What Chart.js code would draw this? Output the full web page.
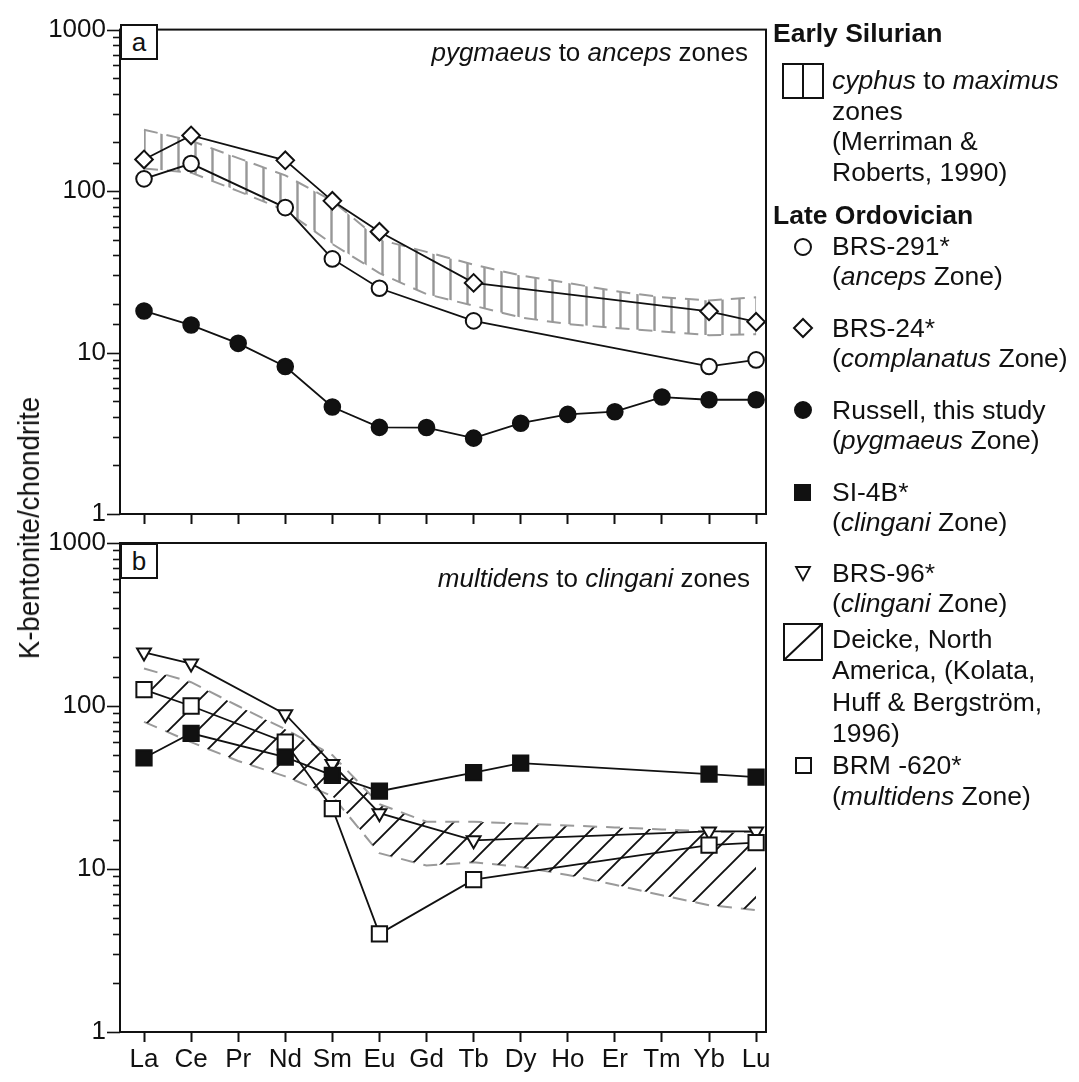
<!DOCTYPE html>
<html><head><meta charset="utf-8">
<script src="https://cdn.jsdelivr.net/npm/chart.js@4/dist/chart.umd.min.js"></script>
<style>
html,body{margin:0;padding:0;background:#fff;}
#wrap{position:relative;width:1079px;height:1082px;overflow:hidden;font-family:'Liberation Sans',Arial,Helvetica,sans-serif;color:#111;}
canvas{position:absolute;left:0;top:0;}
.t{position:absolute;white-space:nowrap;font-size:26.5px;line-height:30px;}
.b{font-weight:bold;}
.box{position:absolute;border:2px solid #111;box-sizing:border-box;width:38px;height:36px;font-size:26px;line-height:32px;text-align:center;background:#fff;}
#ytitle{position:absolute;left:29px;top:528px;transform:translate(-50%,-50%) rotate(-90deg) scaleX(0.92);white-space:nowrap;font-size:30px;}
</style></head><body>
<div id="wrap">
<canvas id="ca" width="780" height="1082" style="width:780px;height:1082px"></canvas>
<canvas id="cb" width="780" height="1082" style="width:780px;height:1082px"></canvas>

<div class="box" style="left:120px;top:24px;">a</div>
<div class="box" style="left:120px;top:543px;">b</div>
<div class="t" style="right:331px;top:37px;font-size:26px;"><i>pygmaeus</i> to <i>anceps</i> zones</div>
<div class="t" style="right:329px;top:563px;font-size:26px;"><i>multidens</i> to <i>clingani</i> zones</div>
<div id="ytitle">K-bentonite/chondrite</div>

<svg style="position:absolute;left:770px;top:0;" width="309" height="1082">
  <g stroke="#111" stroke-width="2" fill="none">
    <rect x="13" y="64" width="40" height="34"/>
    <line x1="33" y1="64" x2="33" y2="98"/>
    <circle cx="33" cy="247" r="8" fill="#fff"/>
    <polygon points="33,319 42,328 33,337 24,328" fill="#fff"/>
    <circle cx="33" cy="410" r="8" fill="#111"/>
    <rect x="25" y="485" width="15" height="15" fill="#111"/>
    <polygon points="26,567 40,567 33,580" fill="#fff" stroke-width="1.8"/>
    <rect x="14" y="624" width="38" height="36"/>
    <line x1="14" y1="660" x2="52" y2="624"/>
    <rect x="26" y="758" width="15" height="15" fill="#fff"/>
  </g>
</svg>
<div class="t b" style="left:773px;top:18px;">Early Silurian</div>
<div class="t" style="left:832px;top:65px;"><i>cyphus</i> to <i>maximus</i></div>
<div class="t" style="left:832px;top:96px;">zones</div>
<div class="t" style="left:832px;top:126px;">(Merriman &amp;</div>
<div class="t" style="left:832px;top:157px;">Roberts, 1990)</div>
<div class="t b" style="left:773px;top:200px;">Late Ordovician</div>
<div class="t" style="left:832px;top:231px;">BRS-291*</div>
<div class="t" style="left:832px;top:261px;">(<i>anceps</i> Zone)</div>
<div class="t" style="left:832px;top:313px;">BRS-24*</div>
<div class="t" style="left:832px;top:343px;">(<i>complanatus</i> Zone)</div>
<div class="t" style="left:832px;top:395px;">Russell, this study</div>
<div class="t" style="left:832px;top:425px;">(<i>pygmaeus</i> Zone)</div>
<div class="t" style="left:832px;top:477px;">SI-4B*</div>
<div class="t" style="left:832px;top:507px;">(<i>clingani</i> Zone)</div>
<div class="t" style="left:832px;top:558px;">BRS-96*</div>
<div class="t" style="left:832px;top:588px;">(<i>clingani</i> Zone)</div>
<div class="t" style="left:832px;top:624px;">Deicke, North</div>
<div class="t" style="left:832px;top:655px;">America, (Kolata,</div>
<div class="t" style="left:832px;top:687px;">Huff &amp; Bergström,</div>
<div class="t" style="left:832px;top:718px;">1996)</div>
<div class="t" style="left:832px;top:750px;">BRM -620*</div>
<div class="t" style="left:832px;top:781px;">(<i>multidens</i> Zone)</div>
</div>

<script>
// ---------------- DATA ----------------
const categories = ['La','Ce','Pr','Nd','Sm','Eu','Gd','Tb','Dy','Ho','Er','Tm','Yb','Lu'];
const yTickValues = [1, 10, 100, 1000];
const yTickLabels = ['1', '10', '100', '1000'];

// Panel a
const brs291  = [119, 148, null, 79, 38, 25, null, 15.7, null, null, null, null, 8.2, 9.0];
const brs24   = [157, 221, null, 155, 87, 56, null, 27, null, null, null, null, 18, 15.5];
const russell = [18.1, 14.8, 11.4, 8.2, 4.6, 3.44, 3.43, 2.95, 3.65, 4.14, 4.3, 5.3, 5.1, 5.1];
const silurianUpper = [240, 205, 160, 125, 87, 50, 42, 35, 30, 27, 24, 22, 21, 22];
const silurianLower = [138, 130, 100, 76, 47, 31, 23, 19.5, 16.5, 15, 14.2, 13.5, 12.8, 13];

// Panel b
const brs96  = [213, 182, null, 89, 44, 22, null, 15, null, null, null, null, 17, 17];
const brm620 = [126, 100, null, 60, 23.5, 4.0, null, 8.6, null, null, null, null, 14, 14.5];
const si4b   = [48, 68, null, 48.5, 37.5, 30, null, 39, 44.6, null, null, null, 38.2, 36.6];
const deickeUpper = [170, 140, 100, 72, 50, 25, 19.5, 19.5, 19, 18.5, 18, 17.5, 17, 16.8];
const deickeLower = [80, 60, 46, 37, 28, 12.5, 10.5, 11, 10.3, 9.2, 8, 6.9, 6, 5.6];

// ---------------- HELPERS ----------------
const FONT = "'Liberation Sans', Arial, Helvetica, sans-serif";
const INK = '#111';
const pts = arr => arr.map((v, i) => ({x: i, y: v})).filter(p => p.y != null);
const isMajor = v => Math.abs(Math.log10(v) - Math.round(Math.log10(v))) < 1e-9;

function vPattern() {
  const c = document.createElement('canvas'); c.width = 17; c.height = 17;
  const g = c.getContext('2d');
  g.strokeStyle = '#979797'; g.lineWidth = 2.4;
  g.beginPath(); g.moveTo(8.5, 0); g.lineTo(8.5, 17); g.stroke();
  return g.createPattern(c, 'repeat');
}
function dPattern() {
  const s = 29;
  const c = document.createElement('canvas'); c.width = s; c.height = s;
  const g = c.getContext('2d');
  g.strokeStyle = '#111'; g.lineWidth = 1.9;
  g.beginPath();
  g.moveTo(0, s); g.lineTo(s, 0);
  g.moveTo(-2, 2); g.lineTo(2, -2);
  g.moveTo(s - 2, s + 2); g.lineTo(s + 2, s - 2);
  g.stroke();
  return g.createPattern(c, 'repeat');
}

const framePlugin = {
  id: 'frame',
  afterDraw(chart) {
    const {ctx, chartArea: a, scales: {y}} = chart;
    ctx.save();
    ctx.strokeStyle = INK; ctx.lineWidth = 2;
    ctx.strokeRect(a.left, a.top, a.right - a.left, a.bottom - a.top);
    ctx.lineWidth = 1.6;
    y.ticks.forEach(t => {
      const py = Math.round(y.getPixelForValue(t.value)) + 0.5;
      const L = isMajor(t.value) ? 13 : 7;
      ctx.beginPath(); ctx.moveTo(a.left, py); ctx.lineTo(a.left - L, py); ctx.stroke();
    });
    ctx.restore();
  }
};

function band(lower, upper, pattern) {
  return [
    {data: pts(lower), borderColor: '#9a9a9a', borderWidth: 2, borderDash: [14, 9],
     pointRadius: 0, fill: false, tension: 0, order: 5},
    {data: pts(upper), borderColor: '#9a9a9a', borderWidth: 2, borderDash: [14, 9],
     pointRadius: 0, fill: '-1', backgroundColor: pattern, tension: 0, order: 4}
  ];
}
function series(arr, style, radius, fillColor, rotation) {
  return {data: pts(arr), borderColor: INK, borderWidth: 1.8, tension: 0, fill: false,
    pointStyle: style, pointRadius: radius, pointBorderWidth: 2,
    pointBackgroundColor: fillColor, pointBorderColor: INK, pointRotation: rotation || 0, order: 0};
}

function makeChart(id, datasets, padTop, padBottom, xAxisH, showXLabels) {
  return new Chart(document.getElementById(id), {
    type: 'line',
    data: {datasets},
    options: {
      responsive: false, animation: false, events: [],
      layout: {padding: {top: padTop, right: 14, bottom: padBottom, left: 0}, autoPadding: false},
      plugins: {legend: {display: false}, tooltip: {enabled: false}, title: {display: false}},
      scales: {
        x: {
          type: 'linear', min: -0.51, max: 13.21,
          afterBuildTicks: s => { s.ticks = categories.map((c, i) => ({value: i})); },
          afterFit: s => { s.height = xAxisH; },
          grid: {drawOnChartArea: false, drawTicks: true, tickLength: 10, tickColor: INK, tickWidth: 2},
          border: {display: true, color: INK, width: 2},
          ticks: {autoSkip: false, maxRotation: 0, minRotation: 0, padding: 2, color: INK,
                  font: {family: FONT, size: 26},
                  callback: v => showXLabels ? categories[v] : ''}
        },
        y: {
          type: 'logarithmic', min: 1, max: 1000,
          afterFit: s => { s.width = 120; },
          grid: {drawOnChartArea: false, drawTicks: false},
          border: {display: true, color: INK, width: 2},
          ticks: {autoSkip: false, padding: 14, color: INK, font: {family: FONT, size: 26},
                  callback: v => { const i = yTickValues.indexOf(v); return i >= 0 ? yTickLabels[i] : ''; }}
        }
      }
    },
    plugins: [framePlugin]
  });
}

// Panel a
makeChart('ca', [
  ...band(silurianLower, silurianUpper, vPattern()),
  series(brs291, 'circle', 7.8, '#fff'),
  series(brs24, 'rectRot', 8.8, '#fff'),
  series(russell, 'circle', 7.8, INK)
], 24, 1082 - 514 - 16, 16, false);

// Panel b
makeChart('cb', [
  ...band(deickeLower, deickeUpper, dPattern()),
  series(si4b, 'rect', 10.8, INK),
  series(brm620, 'rect', 10.8, '#fff'),
  series(brs96, 'triangle', 8, '#fff', 180)
], 543, 0, 1082 - 1032, true);
</script>
</body></html>
